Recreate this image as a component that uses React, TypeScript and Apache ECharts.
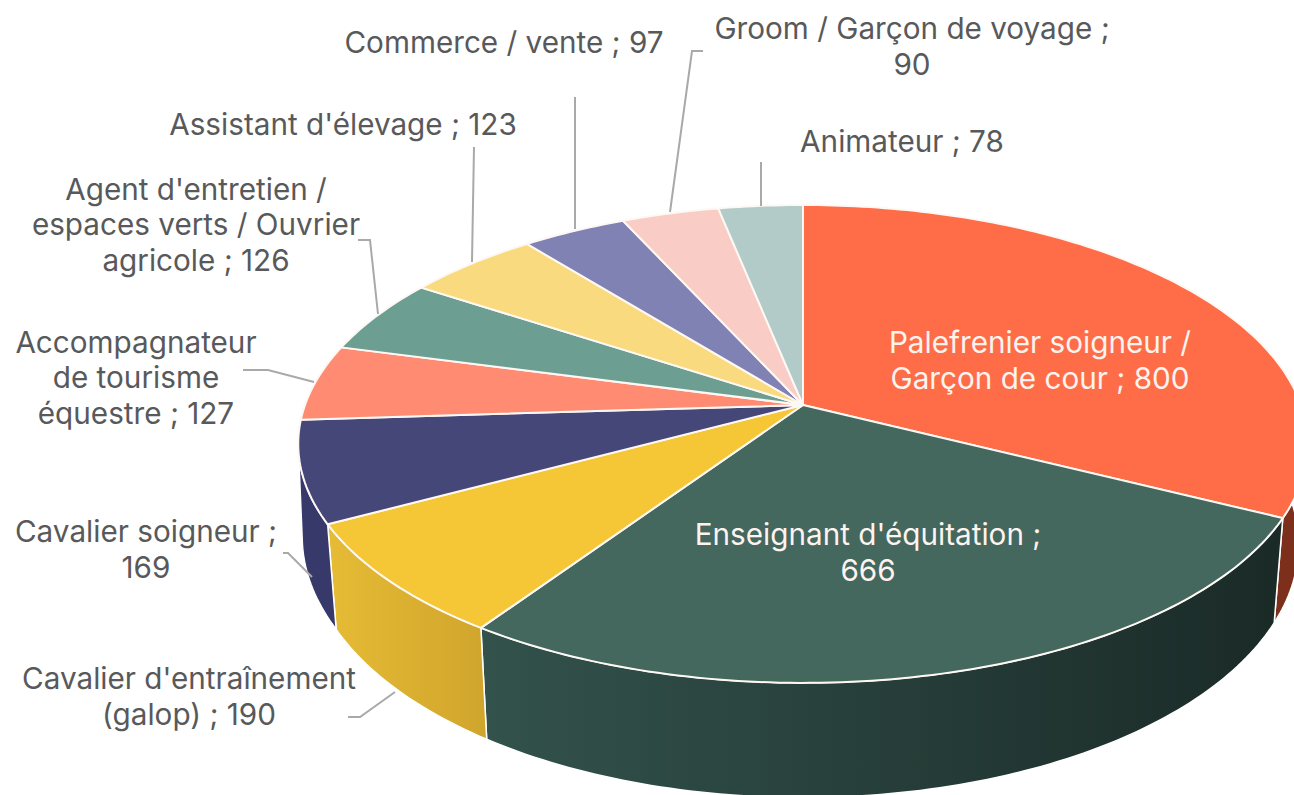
import React, { useEffect, useRef } from "react";
import * as echarts from "echarts";

const categories = [
  "Palefrenier soigneur /\nGarçon de cour",
  "Enseignant d'équitation",
  "Cavalier d'entraînement\n(galop)",
  "Cavalier soigneur",
  "Accompagnateur\nde tourisme\néquestre",
  "Agent d'entretien /\nespaces verts / Ouvrier\nagricole",
  "Assistant d'élevage",
  "Commerce / vente",
  "Groom / Garçon de voyage",
  "Animateur",
];
const values = [800, 666, 190, 169, 127, 126, 123, 97, 90, 78];
const separators = [" ; ", " ;\n", " ; ", " ;\n", " ; ", " ; ", " ; ", " ; ", " ;\n", " ; "];
const topColors = ["#fe6d47", "#44675e", "#f5c737", "#444777", "#fe8b72", "#6c9f92", "#f9da7e", "#7f82b3", "#f9cdc5", "#b3cbc8"];
const wallStart = ["#7c2f1b", "#33524c", "#e6bb35", "#37396b"];
const wallEnd = ["#7c2f1b", "#1a2a27", "#d0a52c", "#37396b"];

const labelCenters: number[][] = [
  [1040, 360], [868, 552], [189, 696], [146, 549], [136, 377],
  [196, 224], [343, 124], [504, 42], [912, 46], [902, 141],
];
const leaders: number[][][] = [
  [], [],
  [[348, 717], [360, 717], [395, 692]],
  [[283, 553], [288, 553], [312, 577]],
  [[243, 370], [268, 370], [314, 382]],
  [[358, 240], [370, 240], [378, 314]],
  [[474, 147], [472, 262]],
  [[575, 97], [575, 229]],
  [[703, 51], [692, 51], [670, 212]],
  [[761, 162], [761, 206]],
];

// Projection of the tilted pie
const CX = 803, CY = 405, RX = 498, RY = 232.6, K = 0.163;
const DEPTH = 98, SX = 0.982, SY = 1.06;
const WALL_FROM = 70, WALL_TO = 260.6; // where the rim turns away from the viewer
const FONT = "Inter";
const FONT_SIZE = 29.7;

const total = values.reduce((a, b) => a + b, 0);
const angles: number[] = [0];
values.forEach((v, i) => angles.push(angles[i] + (v / total) * 360));

function top(deg: number): number[] {
  const a = (deg * Math.PI) / 180;
  const u = Math.sin(a), v = -Math.cos(a), w = 1 - K * v;
  return [CX + (RX * u) / w, CY + (RY * v) / w];
}
function bottom(deg: number): number[] {
  const p = top(deg);
  // the reference's lower rim bulges slightly further out round the left edge
  const bulge = 0.012 * Math.min(1, Math.max(0, (deg - 242) / 23));
  return [CX + (p[0] - CX) * (SX + bulge), CY + DEPTH + (p[1] - CY) * SY];
}
function arc(a0: number, a1: number, fn: (d: number) => number[]): number[][] {
  const n = Math.max(2, Math.ceil(Math.abs(a1 - a0)));
  const pts: number[][] = [];
  for (let i = 0; i <= n; i++) pts.push(fn(a0 + ((a1 - a0) * i) / n));
  return pts;
}

const seriesData = values.map((v, i) => ({ value: v, name: categories[i] }));

export default function App() {
  const ref = useRef<HTMLDivElement>(null);
  useEffect(() => {
    const chart = echarts.init(ref.current!, null, { renderer: "svg" });
    chart.setOption({
      animation: false,
      backgroundColor: "#ffffff",
      series: [
        {
          type: "custom",
          coordinateSystem: "none",
          silent: true,
          z: 1,
          data: seriesData,
          renderItem: (params: any) => {
            const i = params.dataIndex;
            const a0 = Math.max(angles[i], WALL_FROM);
            const a1 = Math.min(angles[i + 1], WALL_TO);
            if (a1 <= a0) return { type: "group", children: [] };
            const points = [...arc(a0, a1, top), ...arc(a1, a0, bottom)];
            return {
              type: "polygon",
              shape: { points },
              style: {
                fill: {
                  type: "linear", x: 0, y: 0, x2: 1, y2: 0,
                  colorStops: [
                    { offset: 0, color: wallStart[i] },
                    { offset: 1, color: wallEnd[i] },
                  ],
                },
                stroke: "#ffffff",
                lineWidth: 1.5,
              },
            };
          },
        },
        {
          type: "custom",
          coordinateSystem: "none",
          silent: true,
          z: 2,
          data: seriesData,
          renderItem: (params: any) => {
            const i = params.dataIndex;
            const points = [[CX, CY], ...arc(angles[i], angles[i + 1], top)];
            return {
              type: "polygon",
              shape: { points },
              style: { fill: topColors[i], stroke: "#fdf8f4", lineWidth: 2, lineJoin: "round" },
            };
          },
        },
        {
          type: "custom",
          coordinateSystem: "none",
          silent: true,
          z: 3,
          data: seriesData,
          renderItem: (params: any) => {
            const i = params.dataIndex;
            const children: any[] = [];
            if (leaders[i].length) {
              children.push({
                type: "polyline",
                shape: { points: leaders[i] },
                style: { stroke: "#a9a9a9", lineWidth: 2, fill: "none" },
              });
            }
            children.push({
              type: "text",
              style: {
                text: categories[i] + separators[i] + values[i],
                x: labelCenters[i][0],
                y: labelCenters[i][1],
                align: "center",
                verticalAlign: "middle",
                fontFamily: FONT,
                fontSize: FONT_SIZE,
                lineHeight: 35.5,
                fill: i < 2 ? "#fdf3ef" : "#58595b",
              },
            });
            return { type: "group", children };
          },
        },
      ],
    });
    return () => chart.dispose();
  }, []);
  return (
    <div
      ref={ref}
      style={{ position: "fixed", left: 0, top: 0, width: 1294, height: 795 }}
    />
  );
}
